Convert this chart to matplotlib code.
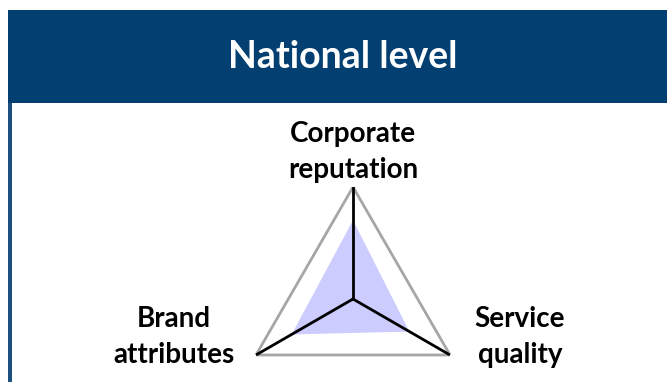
import numpy as np
import matplotlib.pyplot as plt
from matplotlib.patches import Rectangle

# axes of the radar, clockwise from top
labels = ['Corporate\nreputation', 'Service\nquality', 'Brand\nattributes']
values = [3.45, 2.85, 3.1]
scale_max = 5
title = 'National level'

W, H = 667, 382
fig = plt.figure(figsize=(W / 100, H / 100), dpi=100)
fig.patch.set_facecolor('white')

# header banner and left frame line (figure pixel coords)
bg = fig.add_axes([0, 0, 1, 1])
bg.set_xlim(0, W)
bg.set_ylim(H, 0)
bg.axis('off')
bg.add_patch(Rectangle((8, 10), W - 8, 93, facecolor='#043f71', edgecolor='none'))
bg.add_patch(Rectangle((8, 103), 4, H - 103, facecolor='#1b4f7e', edgecolor='none'))
bg.text(343, 57, title, color='white', fontsize=27, fontweight='bold',
        family='Lato', ha='center', va='center')

# radar chart
cx, cy, R = 353, 299, 112
ax = fig.add_axes([(cx - R) / W, (H - cy - R) / H, 2 * R / W, 2 * R / H],
                  projection='polar')
ax.set_facecolor('none')
angles = np.deg2rad([90, -30, 210])
closed_a = np.append(angles, angles[0])
ax.fill(closed_a, np.append(values, values[0]), color='#ccccff', zorder=1)
ax.plot(closed_a, [scale_max] * 4, color='#a6a6a6', lw=2, zorder=2)
for a in angles:
    ax.plot([a, a], [0, scale_max], color='black', lw=2, zorder=3)
ax.set_ylim(0, scale_max)
ax.set_xticks([])
ax.set_yticks([])
ax.grid(False)
ax.spines['polar'].set_visible(False)

lab_pos = [(353, 152), (520, 337), (174, 337)]
for (x, y), lab in zip(lab_pos, labels):
    bg.text(x, y, lab, fontsize=20, fontweight='bold', family='Lato',
            ha='center', va='center', linespacing=1.5, color='black')

fig.savefig('out.png', dpi=100)
